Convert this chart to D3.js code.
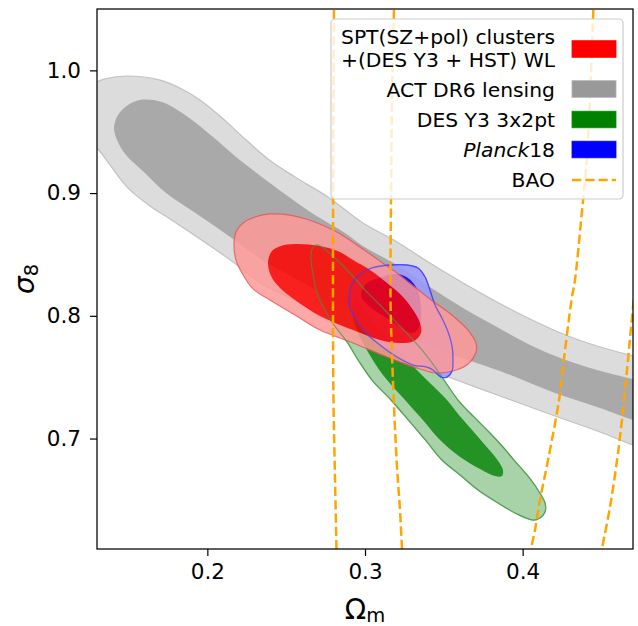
<!DOCTYPE html>
<html><head><meta charset="utf-8">
<script src="https://cdn.jsdelivr.net/npm/d3@7"></script>
<style>body{margin:0;background:#fff}svg{display:block}text{font-family:"DejaVu Sans",sans-serif;fill:#000}</style>
</head><body>
<svg id="c" width="638" height="626"></svg>
<script>
// ---- data (Omega_m, sigma_8) ----
const xDomain=[0.13,0.47], yDomain=[0.61,1.05];
const xTicks=[0.2,0.3,0.4];
const yTicks=[0.7,0.8,0.9,1.0];

const actOuter=[[0.1224,0.9840],[0.1300,0.9905],[0.1351,0.9930],[0.1490,0.9954],[0.1700,0.9921],[0.1826,0.9856],[0.1953,0.9759],[0.2087,0.9620],[0.2239,0.9441],[0.2385,0.9278],[0.2556,0.9131],[0.2765,0.8968],[0.2987,0.8756],[0.3203,0.8602],[0.3412,0.8430],[0.3622,0.8267],[0.3837,0.8113],[0.4047,0.7974],[0.4256,0.7852],[0.4472,0.7754],[0.4700,0.7673],[0.4808,0.7640],
[0.4808,0.6907],[0.4700,0.6947],[0.4491,0.7053],[0.4205,0.7184],[0.3856,0.7347],[0.3495,0.7518],[0.3285,0.7616],[0.3095,0.7721],[0.2924,0.7836],[0.2765,0.7958],[0.2588,0.8104],[0.2347,0.8259],[0.2163,0.8439],[0.1953,0.8626],[0.1744,0.8805],[0.1636,0.8895],[0.1497,0.9041],[0.1382,0.9229],[0.1300,0.9367],[0.1224,0.9433]];
const actInner=[[0.1408,0.9530],[0.1433,0.9636],[0.1497,0.9718],[0.1573,0.9759],[0.1712,0.9742],[0.1877,0.9620],[0.2036,0.9457],[0.2175,0.9302],[0.2321,0.9156],[0.2518,0.8968],[0.2683,0.8821],[0.2873,0.8675],[0.2987,0.8569],[0.3203,0.8414],[0.3412,0.8235],[0.3622,0.8064],[0.3837,0.7909],[0.4047,0.7762],[0.4256,0.7648],[0.4472,0.7559],[0.4700,0.7485],[0.4808,0.7453],
[0.4808,0.7110],[0.4700,0.7151],[0.4491,0.7249],[0.4205,0.7371],[0.3856,0.7550],[0.3520,0.7697],[0.3285,0.7819],[0.3095,0.7925],[0.2924,0.8039],[0.2765,0.8153],[0.2588,0.8284],[0.2347,0.8455],[0.2163,0.8626],[0.1953,0.8813],[0.1731,0.9009],[0.1604,0.9164],[0.1484,0.9310],[0.1433,0.9416]];

const desOuter=[[0.2689,0.8577],[0.2727,0.8561],[0.2810,0.8471],[0.2905,0.8349],[0.3000,0.8210],[0.3095,0.8088],[0.3203,0.7941],[0.3317,0.7787],[0.3412,0.7640],[0.3501,0.7477],[0.3590,0.7314],[0.3691,0.7176],[0.3793,0.7045],[0.3875,0.6931],[0.3945,0.6825],[0.4028,0.6703],[0.4097,0.6581],[0.4142,0.6475],[0.4142,0.6401],[0.4110,0.6353],[0.4066,0.6336],[0.3964,0.6385],[0.3844,0.6475],[0.3717,0.6581],[0.3603,0.6703],[0.3488,0.6825],[0.3393,0.6972],[0.3285,0.7135],[0.3165,0.7314],[0.3044,0.7477],[0.2956,0.7640],[0.2886,0.7787],[0.2803,0.7925],[0.2746,0.8047],[0.2696,0.8186],[0.2670,0.8333],[0.2657,0.8479],[0.2664,0.8544]];
const desInner=[[0.2918,0.8088],[0.2949,0.7884],[0.3019,0.7705],[0.3114,0.7518],[0.3254,0.7314],[0.3367,0.7151],[0.3476,0.6988],[0.3603,0.6850],[0.3730,0.6752],[0.3825,0.6695],[0.3869,0.6695],[0.3875,0.6744],[0.3831,0.6841],[0.3761,0.6947],[0.3679,0.7070],[0.3596,0.7192],[0.3520,0.7314],[0.3425,0.7436],[0.3317,0.7575],[0.3209,0.7721],[0.3095,0.7884],[0.3000,0.8047],[0.2949,0.8129]];

const planckOuter=[[0.2899,0.8145],[0.2924,0.8276],[0.2981,0.8349],[0.3044,0.8390],[0.3159,0.8414],[0.3266,0.8414],[0.3336,0.8390],[0.3381,0.8316],[0.3412,0.8210],[0.3444,0.8088],[0.3488,0.7982],[0.3527,0.7868],[0.3552,0.7754],[0.3558,0.7640],[0.3552,0.7550],[0.3520,0.7501],[0.3482,0.7501],[0.3431,0.7559],[0.3387,0.7583],[0.3305,0.7599],[0.3203,0.7664],[0.3095,0.7762],[0.3000,0.7868],[0.2937,0.7982],[0.2905,0.8064]];
const planckInner=[[0.2975,0.8161],[0.3006,0.8259],[0.3095,0.8310],[0.3209,0.8340],[0.3285,0.8295],[0.3336,0.8200],[0.3355,0.8064],[0.3349,0.7925],[0.3305,0.7860],[0.3222,0.7909],[0.3127,0.7990],[0.3032,0.8072]];

const sptOuter=[[0.2169,0.8577],[0.2182,0.8683],[0.2226,0.8756],[0.2302,0.8805],[0.2397,0.8830],[0.2524,0.8821],[0.2664,0.8773],[0.2810,0.8691],[0.2968,0.8561],[0.3140,0.8405],[0.3222,0.8330],[0.3285,0.8265],[0.3412,0.8137],[0.3558,0.7999],[0.3653,0.7884],[0.3704,0.7779],[0.3704,0.7705],[0.3653,0.7607],[0.3558,0.7550],[0.3444,0.7534],[0.3349,0.7567],[0.3222,0.7624],[0.3140,0.7664],[0.2924,0.7779],[0.2715,0.7884],[0.2556,0.8007],[0.2397,0.8129],[0.2290,0.8219],[0.2220,0.8349],[0.2182,0.8455]];
const sptInner=[[0.2385,0.8439],[0.2410,0.8528],[0.2467,0.8569],[0.2556,0.8585],[0.2715,0.8569],[0.2841,0.8520],[0.2924,0.8455],[0.3032,0.8373],[0.3140,0.8267],[0.3235,0.8161],[0.3305,0.8047],[0.3349,0.7941],[0.3355,0.7860],[0.3311,0.7795],[0.3222,0.7779],[0.3095,0.7803],[0.2924,0.7884],[0.2715,0.7999],[0.2556,0.8129],[0.2461,0.8227],[0.2404,0.8324]];

const baoA=[[0.2803,1.06],[0.2803,1.05],[0.2799,0.9351],[0.2797,0.8129],[0.2800,0.7314],[0.2810,0.6662],[0.2819,0.61],[0.2820,0.60]];
const baoB=[[0.3186,1.06],[0.3184,1.05],[0.3171,0.9759],[0.3165,0.8944],[0.3162,0.8129],[0.3174,0.7583],[0.3203,0.6768],[0.3222,0.6418],[0.3235,0.61],[0.3241,0.60]];
const baoC=[[0.4455,1.06],[0.4449,1.05],[0.4427,0.9759],[0.4402,0.9188],[0.4377,0.8862],[0.4332,0.8292],[0.4310,0.8129],[0.4256,0.7583],[0.4231,0.7314],[0.4161,0.6825],[0.4110,0.6499],[0.4078,0.6255],[0.4053,0.61],[0.4040,0.60]];
const baoD=[[0.4730,0.845],[0.4691,0.7950],[0.4662,0.7559],[0.4630,0.7151],[0.4599,0.6825],[0.4554,0.6442],[0.4503,0.61],[0.4490,0.60]];

const legendLabels=["SPT(SZ+pol) clusters|+(DES Y3 + HST) WL","ACT DR6 lensing","DES Y3 3x2pt","Planck18","BAO"];
const legendColors=["#ff0000","#999999","#008000","#0000ff","#ffa500"];

// ---- drawing ----
const svg=d3.select("#c");
const M={l:97,r:633,t:9,b:549};
const x=d3.scaleLinear().domain(xDomain).range([M.l,M.r]);
const y=d3.scaleLinear().domain(yDomain).range([M.b,M.t]);
const closed=d3.line().x(d=>x(d[0])).y(d=>y(d[1])).curve(d3.curveCatmullRomClosed.alpha(0.5));
const open=d3.line().x(d=>x(d[0])).y(d=>y(d[1])).curve(d3.curveCatmullRom.alpha(0.5));

svg.append("defs").append("clipPath").attr("id","clip").append("rect")
  .attr("x",M.l).attr("y",M.t).attr("width",M.r-M.l).attr("height",M.b-M.t);
const plot=svg.append("g").attr("clip-path","url(#clip)");

function contourSet(outer,inner,cOut,cIn,edge,op){
  const g=plot.append("g").attr("opacity",op);
  g.append("path").attr("d",closed(outer)).attr("fill",cOut).attr("stroke",edge).attr("stroke-width",1.2);
  g.append("path").attr("d",closed(inner)).attr("fill",cIn);
}
contourSet(actOuter,actInner,"#dcdcdc","#a9a9a9","#c2c2c2",1);
contourSet(desOuter,desInner,"#99cc99","#008000","#5fa85f",0.85);
contourSet(planckOuter,planckInner,"#9999ff","#0000ff","#5050f0",0.85);
contourSet(sptOuter,sptInner,"#ff9999","#ff0000","#e85858",0.85);
// outlines showing through
plot.append("path").attr("d",closed(desOuter)).attr("fill","none").attr("stroke","#4a964a").attr("stroke-width",1.2).attr("stroke-opacity",0.7);
plot.append("path").attr("d",closed(planckOuter)).attr("fill","none").attr("stroke","#4040ff").attr("stroke-width",1.3).attr("stroke-opacity",0.7);

[baoA,baoB,baoC,baoD].forEach(l=>{
  plot.append("path").attr("d",open(l)).attr("fill","none").attr("stroke","#ffa500")
    .attr("stroke-width",2.5).attr("stroke-dasharray","9.25,4");
});

// axes
const fmt=d3.format(".1f");
const gx=svg.append("g").attr("transform",`translate(0,${M.b})`)
  .call(d3.axisBottom(x).tickValues(xTicks).tickFormat(fmt).tickSize(7).tickPadding(7.7));
const gy=svg.append("g").attr("transform",`translate(${M.l},0)`)
  .call(d3.axisLeft(y).tickValues(yTicks).tickFormat(fmt).tickSize(7).tickPadding(9));
[gx,gy].forEach(g=>{
  g.select(".domain").remove();
  g.selectAll(".tick line").attr("stroke","#000").attr("stroke-width",1.2);
  g.selectAll(".tick text").attr("font-size",21.5).attr("font-family","DejaVu Sans").attr("fill","#000");
});
svg.append("rect").attr("x",M.l).attr("y",M.t).attr("width",M.r-M.l).attr("height",M.b-M.t)
  .attr("fill","none").attr("stroke","#000").attr("stroke-width",1.25);

// axis labels
const xl=svg.append("text").attr("x",(M.l+M.r)/2).attr("y",619).attr("text-anchor","middle").attr("font-size",28);
xl.append("tspan").text("Ω");
xl.append("tspan").attr("font-size",19.5).attr("dy",3).text("m");
const yl=svg.append("text").attr("transform",`translate(34,${(M.t+M.b)/2}) rotate(-90)`).attr("text-anchor","middle").attr("font-size",28);
yl.append("tspan").attr("font-style","italic").text("σ");
yl.append("tspan").attr("font-size",19.5).attr("dy",4).text("8");

// legend
const lg=svg.append("g");
lg.append("rect").attr("x",331).attr("y",19).attr("width",292).attr("height",180).attr("rx",4)
  .attr("fill","#fff").attr("fill-opacity",0.8).attr("stroke","#cccccc").attr("stroke-width",1.2);
const fs=20.3, tx=555, px=572, pw=44;
const rows=[{b:[44,66.7],c:49},{b:[96.7],c:89},{b:[126.7],c:119.5},{b:[156.7],c:149.5},{b:[187.3],c:180}];
legendLabels.forEach((lab,i)=>{
  const parts=lab.split("|");
  parts.forEach((p,j)=>{
    const t=lg.append("text").attr("x",tx).attr("y",rows[i].b[j]).attr("text-anchor","end").attr("font-size",fs);
    if(p==="Planck18"){t.append("tspan").attr("font-style","italic").text("Planck");t.append("tspan").text("18");}
    else t.text(p);
  });
  if(i<4){
    lg.append("rect").attr("x",px).attr("y",rows[i].c-8.3).attr("width",pw).attr("height",16.6)
      .attr("fill",legendColors[i]).attr("stroke",d3.color(legendColors[i]).brighter(0.4)).attr("stroke-width",0.8);
  } else {
    lg.append("line").attr("x1",px).attr("x2",px+pw).attr("y1",rows[i].c).attr("y2",rows[i].c)
      .attr("stroke",legendColors[i]).attr("stroke-width",2.5).attr("stroke-dasharray","9.25,4");
  }
});
</script>
</body></html>
